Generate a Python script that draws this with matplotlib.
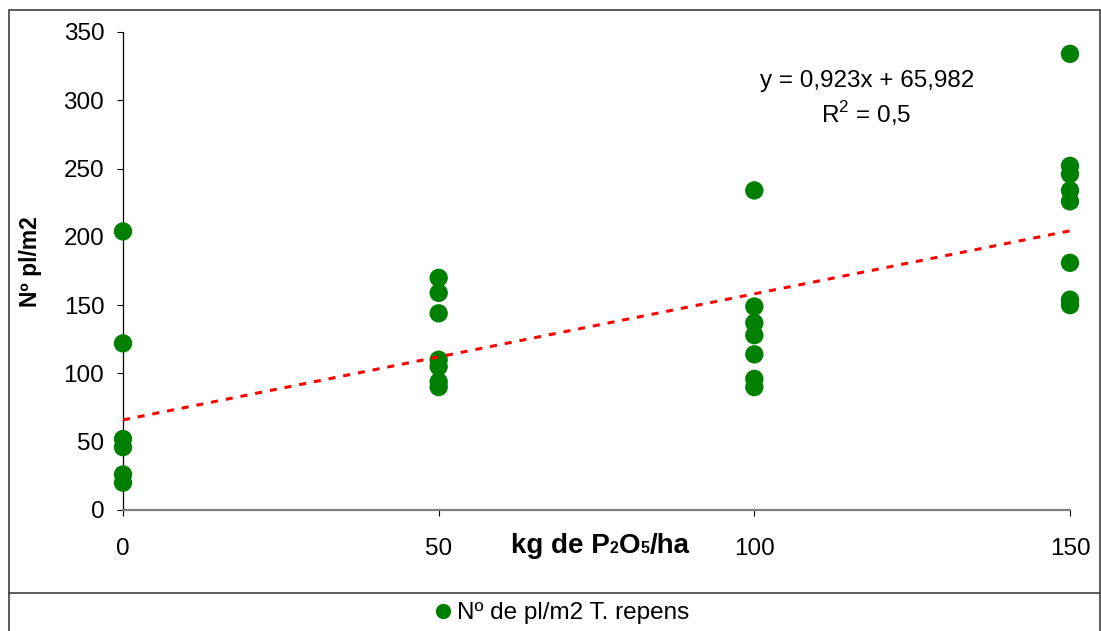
import matplotlib
matplotlib.use("Agg")
import matplotlib.pyplot as plt
from matplotlib.lines import Line2D
from matplotlib.patches import Rectangle
import numpy as np

plt.rcParams['font.family'] = ['Liberation Sans', 'DejaVu Sans']
plt.rcParams['mathtext.fontset'] = 'custom'
plt.rcParams['mathtext.rm'] = 'Liberation Sans'

# ---- data ----
dose_0 = [204, 122, 52, 46, 26, 20]
dose_50 = [170, 159, 144, 110, 105, 94, 90]
dose_100 = [234, 149, 137, 128, 114, 96, 90]
dose_150 = [334, 252, 246, 234, 226, 181, 154, 150]
doses = [0, 50, 100, 150]
trend_slope = 0.923
trend_intercept = 65.982
equation_text = "y = 0,923x + 65,982"
r2_text = "R$^2$ = 0,5"
x_ticks = [0, 50, 100, 150]
y_ticks = [0, 50, 100, 150, 200, 250, 300, 350]
series_label = "Nº de pl/m2 T. repens"
y_label = "Nº pl/m2"

W, H = 1101, 631
def fx(px):
    return px / W
def fy(py):
    return 1 - py / H

fig = plt.figure(figsize=(W / 100, H / 100), dpi=100)
ax = fig.add_axes([fx(123), fy(510), (1070 - 123) / W, (510 - 32) / H])

xs = []
ys = []
for d, vals in zip(doses, [dose_0, dose_50, dose_100, dose_150]):
    xs += [d] * len(vals)
    ys += vals

green = '#008000'
ax.scatter(xs, ys, s=175, color=green, edgecolors='none', zorder=3, clip_on=False)

tx = np.array([0, 150])
ax.plot(tx, trend_slope * tx + trend_intercept, color='#ff0000', lw=2.2,
        linestyle=(0, (2.3, 2.6)), zorder=4, solid_capstyle='butt', dash_capstyle='butt')

ax.set_xlim(0, 150)
ax.set_ylim(0, 350)
ax.set_xticks(x_ticks)
ax.set_yticks(y_ticks)
fs = 17.5
ax.tick_params(axis='y', direction='out', length=4.5, width=0.8, color='black',
               labelsize=fs, pad=9)
ax.tick_params(axis='x', direction='out', length=4, width=0.8, color='black',
               labelsize=fs, pad=16)
for s in ['top', 'right']:
    ax.spines[s].set_visible(False)
ax.spines['left'].set_color('black')
ax.spines['left'].set_linewidth(0.9)
ax.spines['bottom'].set_color('#808080')
ax.spines['bottom'].set_linewidth(1.6)

# y label
fig.text(fx(30), fy(262), y_label, rotation=90, ha='center', va='center',
         fontsize=16.5, fontweight='bold')

# x label with small digits
base_y = fy(553)
big, small = 20, 11.5
t = fig.text(fx(511), base_y, "kg de P", fontsize=big, fontweight='bold',
             ha='left', va='baseline')
parts = [("2", small), ("O", big), ("5", small), ("/ha", big)]
prev = t
for txt, size in parts:
    prev = ax.annotate(txt, xy=(1, base_y), xycoords=(prev, 'figure fraction'),
                       fontsize=size, fontweight='bold', ha='left', va='baseline',
                       annotation_clip=False)

# equation
fig.text(fx(867), fy(81), equation_text, ha='center', va='center', fontsize=fs)
fig.text(fx(866), fy(114), r2_text, ha='center', va='center', fontsize=fs)

# legend
handle = Line2D([], [], marker='o', ls='', color=green, markersize=11, markeredgewidth=0)
fig.legend([handle], [series_label], loc='center', bbox_to_anchor=(fx(560), fy(613)),
           frameon=False, fontsize=17.45, handletextpad=0.1, handlelength=1.0,
           borderaxespad=0, borderpad=0)

# outer border and separator
fig.add_artist(Rectangle((fx(9), fy(660)), (1100 - 9) / W, (660 - 10) / H,
                         transform=fig.transFigure, fill=False, ec='#404040', lw=1.2))
fig.add_artist(Line2D([fx(9), fx(1100)], [fy(593), fy(593)], transform=fig.transFigure,
                      color='#404040', lw=1.2))

fig.savefig("out.png", dpi=100)
